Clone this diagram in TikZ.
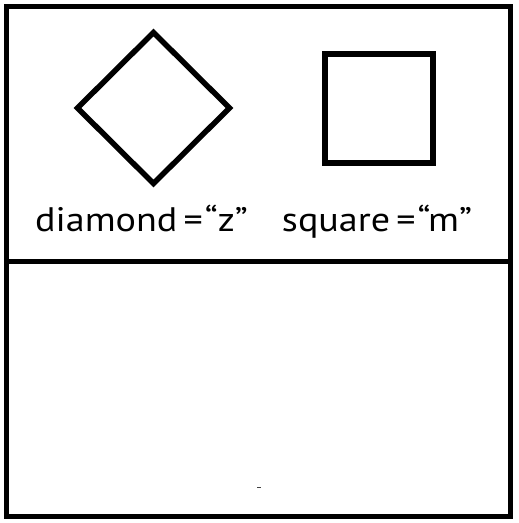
\documentclass[tikz,border=0pt]{standalone}
\usepackage{fontspec}
\setmainfont{PT Sans}[FakeStretch=1.12]
\begin{document}
\begin{tikzpicture}[x=1pt,y=-1pt,
  frameline/.style={line width=5pt,line join=miter},
  shapeline/.style={line width=5.5pt,line join=miter},
  label/.style={anchor=base,inner sep=0pt,font=\fontsize{34}{38}\selectfont}]
\useasboundingbox (0,0) rectangle (519,523);
\fill[white] (0,0) rectangle (519,523);
\draw[frameline] (6.5,6.5) rectangle (510.5,516.5);
\draw[frameline] (6.5,261.5) -- (510.5,261.5);
\draw[shapeline] (153.5,32.5) -- (229.5,108) -- (153.5,183.5) -- (77.5,108) -- cycle;
\draw[shapeline] (325,54) rectangle (433,163);
\node[label] (dlabel) at (141.5,231) {diamond\hspace{0.18em}=\hspace{0.06em}“z”};
\node[label] (slabel) at (377,231) {square\hspace{0.18em}=\hspace{0.06em}“m”};
\fill[black!75] (257,486.8) rectangle (261,488.4);
\end{tikzpicture}
\end{document}
